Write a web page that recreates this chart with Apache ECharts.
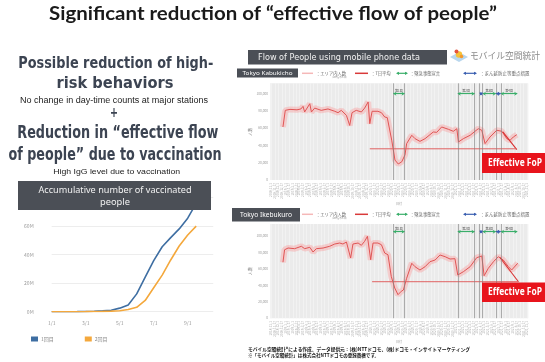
<!DOCTYPE html>
<html><head><meta charset="utf-8">
<script src="https://cdn.jsdelivr.net/npm/echarts@6/dist/echarts.min.js"></script>
<style>html,body{margin:0;padding:0;background:#fff}#c{width:545px;height:362px}</style>
</head><body><div id="c"></div><script>
// ---- Cumulative vaccinations (persons), half-monthly ----
const vacDates = ['1/1','1/15','2/1','2/15','3/1','3/15','4/1','4/15','5/1','5/15','6/1','6/15','7/1','7/15','8/1','8/15','9/1','9/15','10/1','10/15'];
const firstDose = [0,0,0,50000,120000,300000,600000,1000000,2500000,4700000,12500000,24300000,35800000,45600000,52000000,58100000,65600000,76000000,null,null];
const secondDose = [0,0,0,0,30000,100000,200000,400000,700000,1500000,3100000,7900000,16800000,25700000,36300000,46100000,53800000,60025956,null,null];
const vacYLabels = ['0M','20M','40M','60M','80M'];

// ---- Flow of people (7-day average), Tokyo Kabukicho ----
const kabukiDates = ['2018-12-21','2018-12-31','2019-01-20','2019-02-19','2019-03-08','2019-03-17','2019-03-24','2019-04-15','2019-04-22','2019-05-06','2019-06-03','2019-07-02','2019-07-31','2019-08-14','2019-08-28','2019-09-19','2019-10-03','2019-10-13','2019-10-31','2019-11-22','2019-12-06','2019-12-21','2019-12-28','2020-01-07','2020-02-01','2020-02-16','2020-03-01','2020-03-12','2020-03-20','2020-03-31','2020-04-14','2020-04-28','2020-05-13','2020-05-27','2020-06-03','2020-06-25','2020-07-09','2020-07-30','2020-08-21','2020-09-25','2020-10-10','2020-10-31','2020-11-29','2020-12-20','2021-01-04','2021-01-11','2021-02-01','2021-03-02','2021-03-23','2021-04-06','2021-04-21','2021-05-05','2021-05-26','2021-06-24','2021-07-16','2021-08-06','2021-08-20','2021-09-03','2021-09-18'];
const kabukiCounts = [61200,80400,81500,81000,82000,85000,78500,88000,78500,83000,80400,82000,79300,77700,80400,74600,63000,77700,80400,78500,83000,90000,65000,79300,79300,77700,72700,72000,70000,46000,23000,18500,21000,29000,42000,51600,47700,44600,47700,55400,55000,61200,58500,56200,59200,43900,47700,51600,56200,59200,57400,42000,49600,57400,56200,47700,45800,49600,52300];
const kabukiEffective = [['2021-07-20',55500],['2021-09-18',35000]];
const kabukiLevel = [['2019-12-28',36000],['2021-09-18',36000]];

// ---- Flow of people (7-day average), Tokyo Ikebukuro ----
const ikeDates = ['2018-12-21','2018-12-28','2019-01-12','2019-02-09','2019-03-10','2019-03-24','2019-04-15','2019-04-29','2019-05-13','2019-06-11','2019-07-09','2019-07-31','2019-08-21','2019-09-04','2019-09-19','2019-10-07','2019-10-17','2019-11-08','2019-11-22','2019-12-06','2019-12-18','2020-01-01','2020-01-11','2020-02-01','2020-02-16','2020-03-01','2020-03-15','2020-03-29','2020-04-13','2020-04-27','2020-05-11','2020-05-20','2020-06-03','2020-06-25','2020-07-09','2020-07-30','2020-08-21','2020-09-11','2020-10-03','2020-10-24','2020-11-15','2020-12-06','2020-12-27','2021-01-08','2021-02-01','2021-03-02','2021-03-30','2021-04-21','2021-05-01','2021-05-19','2021-06-10','2021-07-01','2021-07-22','2021-08-13','2021-08-27','2021-09-22'];
const ikeCounts = [68200,83500,85600,84800,87700,84800,86500,80700,84800,85600,87700,90500,91700,90500,92900,73400,90500,91700,88900,93800,99900,71300,91700,91700,89600,79500,77400,51100,36800,28700,32800,34400,48700,67000,62800,58800,62800,68900,71000,77100,75000,72200,72600,52700,56700,62800,73800,75900,51800,60900,68900,75000,71000,62800,58800,67000];
const ikeEffective = [['2021-07-08',74000],['2021-09-25',44500]];
const ikeLevel = [['2020-01-07',44500],['2021-09-25',44500]];

const flowYLabels = ['0','20,000','40,000','60,000','80,000','100,000'];

// State of emergency periods (green) and priority measures (blue)
const emergency = [['2020-04-07','2020-05-25','第1回'],['2021-01-08','2021-03-21','第2回'],['2021-04-25','2021-06-20','第3回'],['2021-07-12','2021-09-20','第4回']];
const priority = [['2021-04-12','2021-04-24'],['2021-06-21','2021-07-11']];
const boundaries = ['2020-04-07','2020-05-25','2021-01-08','2021-03-21','2021-04-12','2021-04-25','2021-06-20','2021-07-12'];

const DAY = 86400e3;
const t = s => new Date(s + 'T00:00:00').getTime();
const pairs = (d, v) => d.map((s, i) => [t(s), v[i]]);
const ptList = a => a.map(p => [t(p[0]), p[1]]);

const BOX = '#4b4f56';
const SLATE = '#3c4452';
const HEAVY = '"DejaVu Sans"';
const ctx = document.createElement('canvas').getContext('2d');
function fitText(text, x, y, width, size, family, weight, fill, align) {
  ctx.font = `${weight} ${size}px ${family}`;
  const w = ctx.measureText(text).width;
  return {
    type: 'text', x, y, scaleX: width / w, z: 100,
    style: { text, fontSize: size, fontFamily: family, fontWeight: weight, fill,
      align: align, verticalAlign: 'middle', textAlign: align, textVerticalAlign: 'middle' }
  };
}
function plainText(text, x, y, size, fill, align, family, weight) {
  return { type: 'text', x, y, z: 100, style: { text, fontSize: size, fontFamily: family || '"Noto Sans CJK JP"', fontWeight: weight || 'normal', fill,
    align: align || 'left', verticalAlign: 'middle', textAlign: align || 'left', textVerticalAlign: 'middle' } };
}
function arrow(x1, x2, y, color) {
  return { type: 'group', z: 100, children: [
    { type: 'line', shape: { x1: x1 + 1, y1: y, x2: x2 - 1, y2: y }, style: { stroke: color, lineWidth: 1.2 } },
    { type: 'polygon', shape: { points: [[x1, y], [x1 + 3, y - 1.6], [x1 + 3, y + 1.6]] }, style: { fill: color } },
    { type: 'polygon', shape: { points: [[x2, y], [x2 - 3, y - 1.6], [x2 - 3, y + 1.6]] }, style: { fill: color } }
  ] };
}
function legendRow(y) {
  return [
    { type: 'line', z: 100, shape: { x1: 302, y1: y, x2: 313, y2: y }, style: { stroke: '#f5b8b8', lineWidth: 1.5 } },
    plainText('：エリア内人数', 316, y, 4.3, '#666'),
    plainText('(10時台の人口)', 332, y + 3.6, 2.2, '#888'),
    { type: 'line', z: 100, shape: { x1: 355, y1: y, x2: 368, y2: y }, style: { stroke: '#d93a3a', lineWidth: 1.5 } },
    plainText('：7日平均', 371, y, 4.3, '#666'),
    arrow(396, 408, y, '#3aae6a'),
    plainText('：緊急事態宣言', 410, y, 4.3, '#666'),
    arrow(463, 477, y, '#3a5fb0'),
    plainText('：まん延防止等重点措置', 480, y, 4.5, '#666')
  ];
}
function fopBox(y, h) {
  return [
    { type: 'rect', z: 100, shape: { x: 482, y, width: 63, height: h }, style: { fill: '#e8141c' } },
    fitText('Effective FoP', 488, y + h / 2, 54, 11, '"Open Sans"', 'bold', '#fff', 'left')
  ];
}

const axisMin = t('2018-10-26') + 12 * 3600e3;
const axisMax = t('2021-11-05');

function flowX(gi) {
  return { type: 'time', gridIndex: gi, min: axisMin, max: axisMax, splitNumber: 100, minInterval: 17 * DAY, maxInterval: 17 * DAY,
    axisLine: { show: false }, axisTick: { show: false },
    axisLabel: { rotate: 90, fontSize: 3, color: '#aaa', margin: 3, hideOverlap: false, formatter: '{yyyy}/{M}/{d}' },
    splitLine: { show: true, lineStyle: { color: '#f7f7f7', width: 0.6 } },
    name: '日付', nameLocation: 'middle', nameGap: 21, nameTextStyle: { fontSize: 3, color: '#999' } };
}
function flowY(gi, max) {
  return { type: 'value', gridIndex: gi, min: 0, max, interval: 20000,
    axisLine: { show: false }, axisTick: { show: false }, splitLine: { show: false },
    axisLabel: { fontSize: 3.2, color: '#999', margin: 2, showMaxLabel: false, formatter: (v, i) => flowYLabels[i] || '' },
    name: '人数', nameLocation: 'middle', nameGap: 18, nameRotate: 90, nameTextStyle: { fontSize: 4, color: '#777' } };
}
function flowSeries(ai, dates, counts, eff, level, arrowY) {
  const base = { type: 'line', xAxisIndex: ai, yAxisIndex: ai, symbol: 'none', silent: true, animation: false };
  return [
    Object.assign({}, base, { name: 'エリア内人数', data: pairs(dates, counts), lineStyle: { color: 'rgba(248,170,170,0.5)', width: 6 },
      markLine: { silent: true, symbol: 'none', label: { show: false }, lineStyle: { color: '#808080', width: 0.6, type: 'solid' },
        data: boundaries.map(d => ({ xAxis: t(d) })) } }),
    Object.assign({}, base, { name: '7日平均', data: pairs(dates, counts), lineStyle: { color: '#e05555', width: 1 },
      markLine: { silent: true, symbol: ['arrow', 'arrow'], symbolSize: 3,
        lineStyle: { color: '#3aae6a', width: 1.2, type: 'solid' },
        label: { show: true, position: 'middle', formatter: '{b}', fontSize: 3, color: '#555', distance: 1.5 },
        data: emergency.map(e => [{ coord: [t(e[0]), arrowY], name: e[2] }, { coord: [t(e[1]), arrowY] }]) } }),
    Object.assign({}, base, { name: 'effective', data: ptList(eff), lineStyle: { color: '#d83030', width: 1.1 },
      markLine: { silent: true, symbol: ['arrow', 'arrow'], symbolSize: 3,
        lineStyle: { color: '#3a5fb0', width: 1.2, type: 'solid' }, label: { show: false },
        data: priority.map(p => [{ coord: [t(p[0]), arrowY] }, { coord: [t(p[1]), arrowY] }]) } }),
    Object.assign({}, base, { name: 'level', data: ptList(level), lineStyle: { color: '#e06262', width: 1 } })
  ];
}

const lastSecond = secondDose.reduce((a, x, j) => x != null ? j : a, 0);
const vacOrange = secondDose.map((v, i) => i === lastSecond
  ? { value: v, label: { show: true, position: 'top', offset: [-8, 4], fontSize: 5.5, color: '#666', formatter: p => p.value.toLocaleString('en-US') } }
  : v);

const graphics = [
  fitText('Significant reduction of “effective flow of people”', 273, 14.5, 448, 18, 'Lato', 'bold', '#1a1a1a', 'center'),
  fitText('Possible reduction of high-', 115.8, 64, 195, 16, HEAVY, 'bold', SLATE, 'center'),
  fitText('risk behaviors', 115, 84, 117, 16, HEAVY, 'bold', SLATE, 'center'),
  fitText('No change in day-time counts at major stations', 114, 100.5, 188, 8.5, '"Liberation Sans"', 'normal', '#222', 'center'),
  fitText('+', 114, 113, 8, 14, HEAVY, 'bold', SLATE, 'center'),
  fitText('Reduction in “effective flow', 117.8, 134, 201, 17, HEAVY, 'bold', SLATE, 'center'),
  fitText('of people” due to vaccination', 115, 156, 213, 17, HEAVY, 'bold', SLATE, 'center'),
  fitText('High IgG level due to vaccination', 116.7, 171.5, 127, 8, '"Liberation Sans"', 'normal', '#222', 'center'),
  { type: 'rect', z: 100, shape: { x: 18, y: 181, width: 193, height: 29 }, style: { fill: BOX } },
  fitText('Accumulative number of vaccinated', 115, 190.7, 153, 9.5, '"Noto Sans"', 'normal', '#f2f2f2', 'center'),
  fitText('people', 115, 202.5, 30, 9.5, '"Noto Sans"', 'normal', '#f2f2f2', 'center'),
  { type: 'rect', z: 100, shape: { x: 248, y: 50, width: 199, height: 14.5 }, style: { fill: BOX } },
  fitText('Flow of People using mobile phone data', 258, 57.3, 162, 9, '"DejaVu Sans"', 'normal', '#f2f2f2', 'left'),
  { type: 'group', x: 459, y: 56, z: 100, children: [
    { type: 'polygon', shape: { points: [[-9, 1], [0, -4], [9, 1], [0, 6]] }, style: { fill: '#b9d7ee' } },
    { type: 'circle', shape: { cx: 0, cy: -1.5, r: 3.2 }, style: { fill: '#f6c23a' } },
    { type: 'circle', shape: { cx: -2.5, cy: -4.5, r: 2 }, style: { fill: '#e4543f' } },
    { type: 'circle', shape: { cx: 2.5, cy: 0.5, r: 1.8 }, style: { fill: '#f39a2e' } }
  ] },
  fitText('モバイル空間統計', 470, 55.5, 70, 9, '"Noto Sans CJK JP"', 'normal', '#8a8a8a', 'left'),
  { type: 'rect', z: 100, shape: { x: 237, y: 68.5, width: 61, height: 9 }, style: { fill: BOX } },
  fitText('Tokyo Kabukicho', 267.5, 73, 50, 6, '"Noto Sans"', 'normal', '#fff', 'center'),
  { type: 'rect', z: 100, shape: { x: 232, y: 208, width: 68, height: 13.5 }, style: { fill: BOX } },
  fitText('Tokyo Ikebukuro', 266, 214.8, 52, 7, '"Noto Sans"', 'normal', '#fff', 'center'),
  ...legendRow(73.3),
  ...legendRow(214.3),
  ...fopBox(153, 20),
  ...fopBox(282.5, 19.5),
  fitText('モバイル空間統計®による作成。データ提供元：(株)NTTドコモ、(株)ドコモ・インサイトマーケティング', 248, 349.3, 222, 5, '"Noto Sans CJK JP"', 'bold', '#111', 'left'),
  fitText('※「モバイル空間統計」は株式会社NTTドコモの登録商標です。', 248, 355.3, 131, 5, '"Noto Sans CJK JP"', 'bold', '#111', 'left')
];

const chart = echarts.init(document.getElementById('c'), null, { renderer: 'canvas' });
chart.setOption({
  animation: false,
  backgroundColor: '#ffffff',
  textStyle: { fontFamily: '"Noto Sans CJK JP", "Noto Sans", sans-serif' },
  legend: { data: ['1回目', '2回目'], left: 26, top: 331.5, itemWidth: 7, itemHeight: 5, itemGap: 31, icon: 'rect',
    textStyle: { fontSize: 5, color: '#888', padding: [0, 0, 0, -2] } },
  grid: [
    { left: 51.7, top: 197.7, width: 161.5, height: 114 },
    { left: 270, top: 83.3, width: 258, height: 96.7, show: true, backgroundColor: '#ebebeb', borderWidth: 0 },
    { left: 270, top: 224, width: 258, height: 94.2, show: true, backgroundColor: '#ebebeb', borderWidth: 0 }
  ],
  xAxis: [
    { type: 'category', gridIndex: 0, data: vacDates, boundaryGap: false,
      axisLine: { show: false }, axisTick: { show: false },
      axisLabel: { interval: 3, fontSize: 5, color: '#999', margin: 9 } },
    flowX(1), flowX(2)
  ],
  yAxis: [
    { type: 'value', gridIndex: 0, min: 0, max: 80000000, interval: 20000000,
      axisLine: { show: false }, axisTick: { show: false },
      axisLabel: { fontSize: 5, color: '#999', margin: 18, formatter: (v, i) => vacYLabels[i] || '' },
      splitLine: { lineStyle: { color: '#e8e8e8', width: 0.8 } } },
    flowY(1, 111600), flowY(2, 114900)
  ],
  series: [
    { name: '1回目', type: 'line', xAxisIndex: 0, yAxisIndex: 0, data: firstDose, symbol: 'none', color: '#3e6ea2', lineStyle: { width: 1.6 } },
    { name: '2回目', type: 'line', xAxisIndex: 0, yAxisIndex: 0, data: vacOrange, symbol: 'none', color: '#f4a83c', lineStyle: { width: 1.6 } },
    ...flowSeries(1, kabukiDates, kabukiCounts, kabukiEffective, kabukiLevel, 99600),
    ...flowSeries(2, ikeDates, ikeCounts, ikeEffective, ikeLevel, 105500)
  ],
  graphic: { elements: graphics }
});
</script></body></html>
